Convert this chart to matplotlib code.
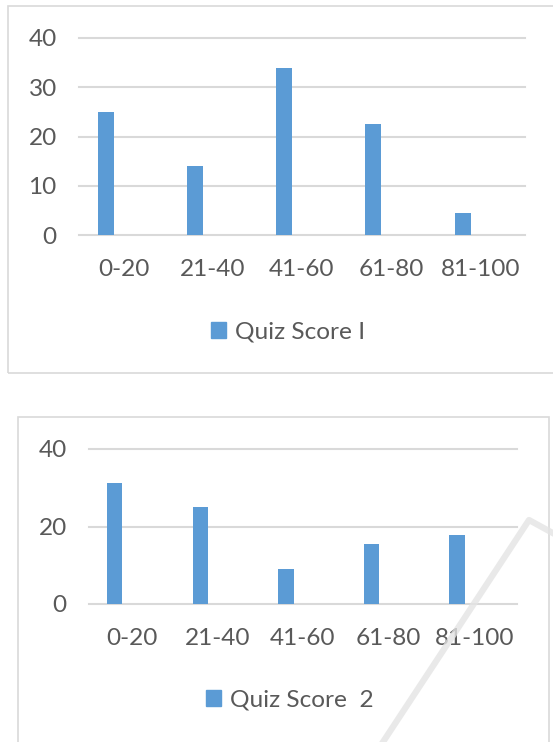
import matplotlib.pyplot as plt
from matplotlib.patches import Rectangle, Patch
from matplotlib.lines import Line2D
import numpy as np

W, H = 553, 742

categories = ['0-20', '21-40', '41-60', '61-80', '81-100']
quiz1 = [25, 14, 34, 22.5, 4.5]
quiz2 = [31.2, 25, 9, 15.5, 17.8]
ticks1 = [0, 10, 20, 30, 40]
ticks2 = [0, 20, 40]

plt.rcParams['font.family'] = ['Lato', 'DejaVu Sans']
TXT = '#595959'
GRID = '#d9d9d9'
BAR = '#5b9bd5'
FS = 17.6

fig = plt.figure(figsize=(W / 100, H / 100), dpi=100)


def px_rect(x0, y0, x1, y1):
    # pixel box (top-left origin) -> figure fraction
    return [x0 / W, 1 - y1 / H, (x1 - x0) / W, (y1 - y0) / H]


def panel(x0, y0, x1, y1):
    r = Rectangle((x0 / W, 1 - y1 / H), (x1 - x0) / W, (y1 - y0) / H,
                  transform=fig.transFigure, fill=False, ec=GRID, lw=1.2)
    fig.patches.append(r)


def bar_chart(rect, values, yticks, label, legend_xy):
    ax = fig.add_axes(rect)
    x = np.arange(len(categories))
    ax.bar(x - 0.2, values, width=0.18, color=BAR, zorder=3)
    ax.set_xlim(-0.5, len(categories) - 0.5)
    ax.set_ylim(0, yticks[-1])
    ax.set_yticks(yticks)
    ax.set_xticks(x)
    ax.set_xticklabels(categories)
    ax.yaxis.grid(True, color=GRID, lw=1.5)
    ax.set_axisbelow(True)
    for line in ax.get_ygridlines():
        line.set_clip_on(False)
    for s in ax.spines.values():
        s.set_visible(False)
    ax.set_facecolor('none')
    ax.tick_params(length=0, labelsize=FS, labelcolor=TXT)
    ax.tick_params(axis='y', pad=16)
    ax.tick_params(axis='x', pad=17)
    fig.legend(handles=[Patch(color=BAR, label=label)], loc='center',
               bbox_to_anchor=(legend_xy[0] / W, 1 - legend_xy[1] / H),
               frameon=False, fontsize=FS, labelcolor=TXT,
               handlelength=0.62, handleheight=0.62, handletextpad=0.35)
    return ax


# panel frames
panel(8, 6, 560, 373)
panel(17.5, 417, 548.5, 760)

bar_chart(px_rect(79, 38, 525, 235), quiz1, ticks1, 'Quiz Score I', (288, 332))
bar_chart(px_rect(89, 449, 517, 604), quiz2, ticks2, 'Quiz Score  2', (290, 700))

# faint watermark stroke across the lower panel
fig.add_artist(Line2D([381 / W, 529 / W, 560 / W], [1 - 745 / H, 1 - 520 / H, 1 - 537 / H],
                      transform=fig.transFigure, color='#e4e4e4', lw=4.5, alpha=0.8))

fig.savefig('out.png', dpi=100)
